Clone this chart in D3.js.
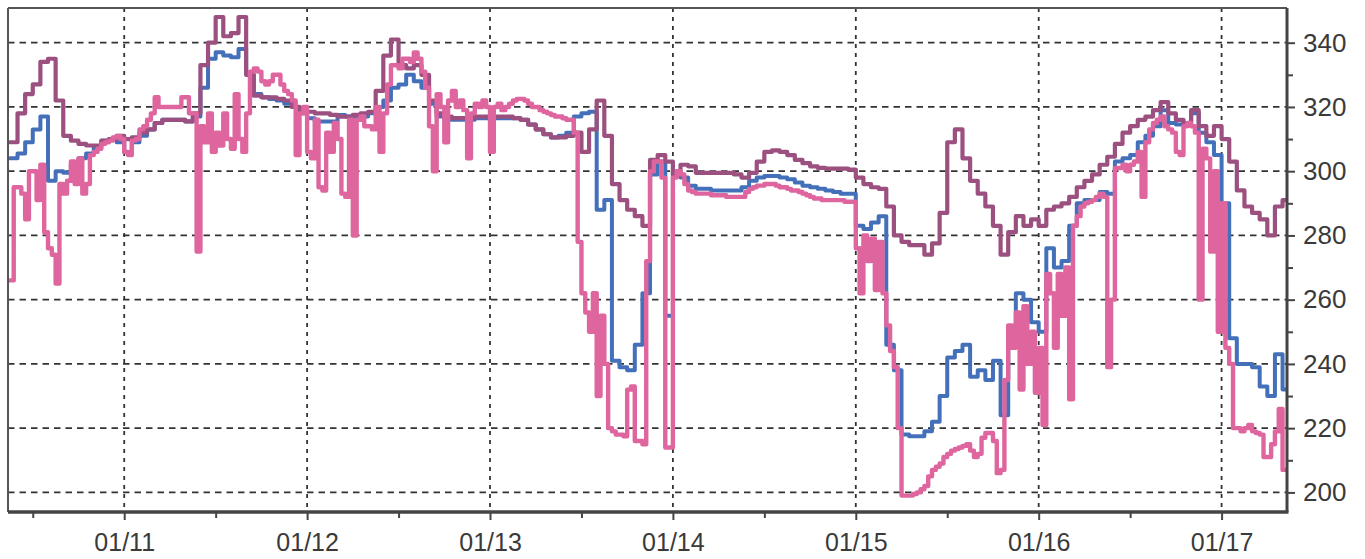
<!DOCTYPE html>
<html>
<head>
<meta charset="utf-8">
<script src="https://cdn.jsdelivr.net/npm/d3@7"></script>
<style>
  body { margin: 0; background: #fff; }
  svg { display: block; }
  .lbl { font-family: "Liberation Sans", Arial, sans-serif; fill: #3a3a3a; }
</style>
</head>
<body>
<svg id="chart" width="1365" height="559"></svg>
<script>
// ---- data -------------------------------------------------------------
// day tick labels along the time axis
const dayLabels = ["01/11", "01/12", "01/13", "01/14", "01/15", "01/16", "01/17"];
// value ticks on the right axis
const valueTicks = [200, 220, 240, 260, 280, 300, 320, 340];
const valueMinorTicks = [210, 230, 250, 270, 290, 310, 330];

// hourly readings starting 01/10 09:00 (upper mauve trace)
const seriesTop = [
  309, 318, 324, 327, 334, 335,
  322, 311, 309.5, 308.5, 308, 308,
  309.5, 310, 311, 310, 310.5, 312,
  313, 315, 316, 316, 316, 315.5,
  318, 333, 340, 348, 342, 343,
  348, 330, 323.5, 323, 323, 322.5,
  322, 320, 319, 318.5, 318, 318,
  317.5, 317, 317, 317.5, 318, 318.5,
  325, 336, 341, 333, 332, 333,
  330, 322, 318, 317, 316.5, 316.5,
  316.5, 317, 317, 317, 317, 317,
  316.5, 316, 314.5, 313, 311.5, 310.5,
  310.5, 311, 312, 306, 313, 322,
  311, 296, 291, 288, 286, 283,
  303.5, 305, 303, 299, 302, 301.5,
  299.5, 299.5, 299.5, 299.5, 299.5, 299,
  298, 299.5, 303, 306, 306.5, 306,
  305, 303.5, 302.5, 301.5, 301, 300.8,
  300.8, 300.8, 300.5, 298, 296, 295,
  294.5, 289, 280, 278, 277, 277,
  274, 277.5, 287, 309, 313, 304,
  297, 293, 289, 283, 274, 281,
  286, 283, 285, 283, 288, 289,
  290, 292, 295, 297, 299, 302,
  304.5, 308.5, 312, 314, 316, 317,
  319, 321.5, 318, 316, 315, 319,
  314, 311, 314, 310, 303, 294,
  289, 287, 285, 280, 289, 291
];

// hourly readings starting 01/10 09:00 (blue trace)
const seriesBlue = [
  304, 305.5, 309, 313, 317, 297,
  300, 299.5, 302, 304, 305.5, 307.5,
  309.5, 310, 309, 306, 309, 311,
  313, 315, 316, 316, 316, 315.5,
  317, 326, 335, 337, 336, 335.5,
  338, 330, 324, 323, 322.5, 322,
  321, 320, 318, 316.5, 315.5, 315.5,
  315.5, 317.5, 317, 316.5, 317, 318,
  320, 322, 326, 327, 330, 328,
  326, 321, 317, 316, 316, 316,
  316, 316.5, 316.5, 316.5, 316.5, 316.5,
  316.5, 316, 314.5, 313, 311.5, 310.5,
  311, 312, 317, 318, 318.5, 288,
  291, 241, 239, 238, 246, 262,
  299, 303, 255, 300, 298, 295.5,
  294.5, 294.5, 294, 294, 294, 294,
  295, 297, 298, 298.5, 298.5, 298,
  297.5, 296.5, 295.5, 295, 294.5, 294,
  293.5, 293, 293, 283, 282, 284,
  286, 246, 238, 218, 217.5, 217.5,
  219, 222, 230, 242, 244, 246,
  236, 238, 235, 241, 224, 250,
  262, 260, 253, 250, 276, 270,
  272, 283, 290, 291, 291, 293.5,
  293, 303, 304, 305, 309, 311,
  314, 319, 315, 314.5, 315, 318,
  312, 309, 305, 290, 248, 240,
  240, 239, 233, 230, 243, 232
];

// half-hourly readings starting 01/10 09:00 (pink trace)
const seriesPink = [
  266, 295, 295, 293, 285, 300,
  300, 291, 302, 281, 276, 274,
  265, 296, 293, 297, 303, 296,
  304, 293, 296, 305, 306, 307,
  308.5, 309, 309.5, 310.5, 311, 310,
  306, 305, 309.5, 310, 313, 314,
  316, 318, 323, 320, 320, 320,
  320, 320, 320, 323, 323, 318,
  318, 275, 314, 309, 318, 306,
  312, 308, 318, 310, 307, 324,
  310, 306, 318, 331, 332, 331,
  328, 327, 328, 330, 330, 327,
  325, 324, 322, 305, 318, 320,
  306, 304, 316, 295, 294, 312,
  306, 315, 310, 293, 292, 316,
  280, 316, 317, 314, 314, 313,
  320, 306, 318, 327, 333, 333,
  332, 335, 335, 334, 337, 335,
  331, 326, 314, 300, 324, 320,
  309, 322, 325, 320, 322, 319,
  304, 318, 321, 320, 322, 320,
  306, 320, 321, 319, 320, 321,
  322, 322.5, 322.5, 322, 321, 320,
  320, 319, 318.5, 318, 317.5, 317,
  317, 316.5, 316, 316, 312, 278,
  262, 256, 250, 262, 230, 255,
  240, 220, 219, 218, 218, 217.5,
  232, 233, 216, 216, 215, 272,
  300, 303, 303, 298, 214, 214,
  298, 300, 299, 296, 294, 293.5,
  293, 293, 293, 293, 292.5, 292.5,
  292.5, 292.5, 292, 292, 292, 292,
  292, 293.5, 294.5, 295, 295.5, 295.5,
  296, 296, 296, 295.5, 295, 295,
  294.5, 294, 294, 293.5, 293, 292.5,
  292, 291.5, 291.5, 291, 291, 291,
  291, 291, 291, 290.5, 290.5, 290.5,
  276, 262, 280, 272, 279, 263,
  278, 262, 252, 244, 239, 220,
  199, 199, 199, 199.5, 200, 201,
  202, 205, 207, 208, 209, 211,
  212, 213, 213.5, 214, 214.5, 215,
  213, 211, 212, 217, 218.5, 218.5,
  216, 206, 207, 235, 252, 245,
  256, 232, 258, 240, 250, 231,
  245, 221, 268, 262, 245, 268,
  255, 270, 229, 283, 286, 289,
  290, 290.5, 291, 292, 293, 292,
  239, 260, 301, 301, 302, 300,
  302, 303, 306, 292, 309, 313,
  315, 316, 317, 314, 313, 312,
  306, 305, 314, 315, 314, 312,
  260, 307, 304, 275, 300, 250,
  290, 245, 240, 220, 220, 219,
  220, 221, 219, 218.5, 218, 211,
  211, 215, 219, 226, 207
];

// ---- layout ------------------------------------------------------------
const parse = d3.timeParse("%Y-%m-%d %H:%M");
const seriesStart = parse("2008-01-10 09:00");
const viewStart = parse("2008-01-10 08:45");
const viewEnd = parse("2008-01-17 08:35");

const plot = { left: 8, right: 1287, top: 8, bottom: 512 };

const x = d3.scaleTime().domain([viewStart, viewEnd]).range([plot.left, plot.right]);
const y = d3.scaleLinear().domain([193.9, 350.8]).range([plot.bottom, plot.top]);

const svg = d3.select("#chart");

function toPoints(values, stepMinutes) {
  const pts = values.map((v, i) => ({ t: d3.timeMinute.offset(seriesStart, i * stepMinutes), v }));
  pts.push({ t: viewEnd, v: values[values.length - 1] });
  return pts;
}

const dayTicks = dayLabels.map(l => parse("2008-" + l.replace("/", "-") + " 00:00"));
const noonTicks = d3.timeHour.every(12).range(viewStart, viewEnd).filter(d => d.getHours() === 12);

// ---- grid --------------------------------------------------------------
const grid = svg.append("g").attr("class", "grid");
grid.selectAll("line.h").data(valueTicks).join("line")
  .attr("class", "h")
  .attr("x1", plot.left).attr("x2", plot.right)
  .attr("y1", d => y(d)).attr("y2", d => y(d))
  .attr("stroke", "#333").attr("stroke-width", 1.8).attr("stroke-dasharray", "6.5,5");
grid.selectAll("line.v").data(dayTicks).join("line")
  .attr("class", "v")
  .attr("x1", d => x(d)).attr("x2", d => x(d))
  .attr("y1", plot.top).attr("y2", plot.bottom)
  .attr("stroke", "#333").attr("stroke-width", 1.8).attr("stroke-dasharray", "4,5");

// ---- traces ------------------------------------------------------------
svg.append("defs").append("clipPath").attr("id", "plotClip")
  .append("rect").attr("x", plot.left).attr("y", plot.top)
  .attr("width", plot.right - plot.left).attr("height", plot.bottom - plot.top);

const line = d3.line().x(d => x(d.t)).y(d => y(d.v)).curve(d3.curveStepAfter);
const traces = svg.append("g").attr("clip-path", "url(#plotClip)")
  .attr("fill", "none").attr("stroke-linejoin", "round").attr("stroke-linecap", "round");

const traceDefs = [
  { pts: toPoints(seriesBlue, 60), color: "#4470ba", width: 4 },
  { pts: toPoints(seriesTop, 60), color: "#9c5080", width: 4.2 },
  { pts: toPoints(seriesPink, 30), color: "#de659e", width: 4.4 }
];
traces.selectAll("path").data(traceDefs).join("path")
  .attr("d", d => line(d.pts))
  .attr("stroke", d => d.color)
  .attr("stroke-width", d => d.width);

// ---- frame -------------------------------------------------------------
svg.append("line").attr("x1", plot.left).attr("x2", plot.right).attr("y1", plot.top).attr("y2", plot.top)
  .attr("stroke", "#555").attr("stroke-width", 2);
svg.append("line").attr("x1", plot.left).attr("x2", plot.left).attr("y1", plot.top).attr("y2", plot.bottom)
  .attr("stroke", "#555").attr("stroke-width", 2);

// ---- axes --------------------------------------------------------------
const xAxis = svg.append("g").attr("transform", `translate(0,${plot.bottom})`)
  .call(d3.axisBottom(x).tickValues(dayTicks).tickSize(8).tickPadding(13)
    .tickFormat((d, i) => dayLabels[i]));
svg.append("g").attr("transform", `translate(0,${plot.bottom})`)
  .call(d3.axisBottom(x).tickValues(noonTicks).tickSize(6).tickFormat(""))
  .call(g => g.select(".domain").remove());

const yAxis = svg.append("g").attr("transform", `translate(${plot.right},0)`)
  .call(d3.axisRight(y).tickValues(valueTicks).tickSize(8).tickPadding(8));
svg.append("g").attr("transform", `translate(${plot.right},0)`)
  .call(d3.axisRight(y).tickValues(valueMinorTicks).tickSize(6).tickFormat(""))
  .call(g => g.select(".domain").remove());

svg.selectAll(".tick line").attr("stroke", "#444").attr("stroke-width", 2);
xAxis.select(".domain").attr("stroke", "#444").attr("stroke-width", 3.5)
  .attr("d", `M${plot.left},0H${plot.right + 1.5}`);
yAxis.select(".domain").attr("stroke", "#444").attr("stroke-width", 3)
  .attr("d", `M0,${plot.top}V${plot.bottom}`);

xAxis.selectAll("text").attr("class", "lbl").attr("font-size", 25).attr("fill", "#3a3a3a");
yAxis.selectAll("text").attr("class", "lbl").attr("font-size", 26).attr("fill", "#3a3a3a");
</script>
</body>
</html>
